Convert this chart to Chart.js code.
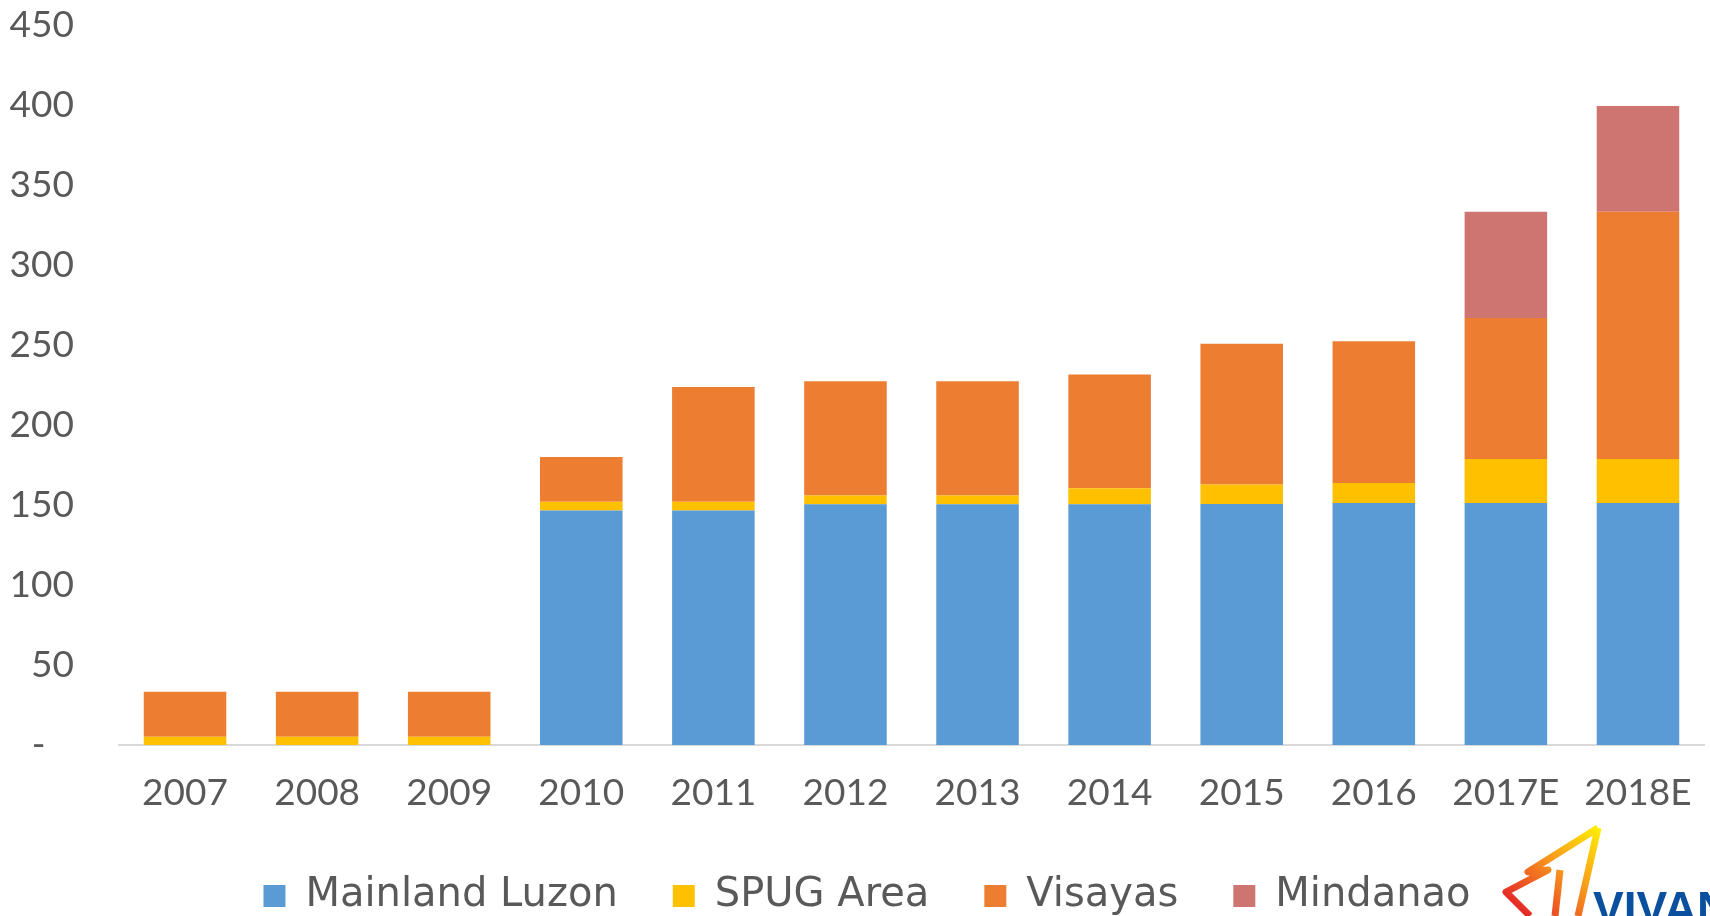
<!DOCTYPE html>
<html>
<head>
<meta charset="utf-8">
<script src="https://cdn.jsdelivr.net/npm/chart.js@4"></script>
<style>
  html, body { margin: 0; padding: 0; background: #fff; }
  #wrap { width: 1710px; height: 916px; position: relative; }
</style>
</head>
<body>
<div id="wrap"><canvas id="chart"></canvas></div>
<script>
const years = ['2007', '2008', '2009', '2010', '2011', '2012', '2013', '2014', '2015', '2016', '2017E', '2018E'];
const luzon = [0, 0, 0, 146.6, 146.6, 150.4, 150.4, 150.4, 150.6, 151.3, 151.2, 151.2];
const spug = [5.2, 5.2, 5.2, 5.4, 5.4, 5.6, 5.6, 10, 12.2, 12.5, 27.5, 27.5];
const visayas = [28.1, 28.1, 28.1, 28, 71.7, 71.3, 71.3, 71.2, 88, 88.5, 88.2, 154.6];
const mindanao = [0, 0, 0, 0, 0, 0, 0, 0, 0, 0, 66.4, 66.1];
const yTicks = [0, 50, 100, 150, 200, 250, 300, 350, 400, 450];

const textColor = '#595959';
const tickFont = 'Lato, "Open Sans", sans-serif';
const legendFont = '"DejaVu Sans", sans-serif';

function dataset(label, data, color) {
    return {
        label: label,
        data: data,
        backgroundColor: color,
        borderWidth: 0,
        barPercentage: 0.625,
        categoryPercentage: 1
    };
}

// put the legend row where the original has it, right before drawing
const legendShift = {
    id: 'legendShift',
    beforeDraw(chart) {
        const lg = chart.legend;
        if (!lg) return;
        lg.top = 821;
        lg.bottom = lg.top + lg.height;
        lg.left = 15;
        lg.right = chart.width - 6 + 15;
    }
};

// rough logo drawn in the bottom right corner
const logoPlugin = {
    id: 'logo',
    afterDraw(chart) {
        const ctx = chart.ctx;
        ctx.save();
        const g = ctx.createLinearGradient(1600, 825, 1520, 916);
        g.addColorStop(0, '#fff200');
        g.addColorStop(0.5, '#f7941d');
        g.addColorStop(1, '#e32228');
        ctx.strokeStyle = g;
        ctx.lineWidth = 7;
        ctx.lineJoin = 'round';
        ctx.beginPath();
        ctx.moveTo(1598, 828);
        ctx.lineTo(1528, 872);
        ctx.lineTo(1548, 870);
        ctx.lineTo(1506, 892);
        ctx.lineTo(1530, 916);
        ctx.stroke();
        ctx.beginPath();
        ctx.moveTo(1598, 828);
        ctx.lineTo(1578, 916);
        ctx.stroke();
        ctx.beginPath();
        ctx.moveTo(1560, 870);
        ctx.lineTo(1555, 916);
        ctx.stroke();
        ctx.fillStyle = '#0b4f9f';
        ctx.font = 'bold 46px "Liberation Sans", Arial, sans-serif';
        ctx.textBaseline = 'alphabetic';
        ctx.fillText('VIVANT', 1593, 924);
        ctx.restore();
    }
};

new Chart(document.getElementById('chart'), {
    type: 'bar',
    data: {
        labels: years,
        datasets: [
            dataset('Mainland Luzon', luzon, '#5b9bd5'),
            dataset('SPUG Area', spug, '#ffc000'),
            dataset('Visayas', visayas, '#ed7d31'),
            dataset('Mindanao', mindanao, '#cf7571')
        ]
    },
    options: {
        responsive: true,
        maintainAspectRatio: false,
        animation: false,
        layout: { padding: { top: 25, right: 6, left: 0, bottom: 0 } },
        plugins: {
            tooltip: { enabled: false },
            legend: {
                position: 'bottom',
                labels: {
                    color: textColor,
                    font: { family: legendFont, size: 40 },
                    boxWidth: 22,
                    boxHeight: 22,
                    padding: 55
                }
            }
        },
        scales: {
            x: {
                stacked: true,
                grid: { display: false, drawTicks: false },
                border: { display: true, color: '#d9d9d9', width: 2 },
                afterFit(scale) {
                    scale.height = 66;
                    scale.paddingLeft = 0;
                    scale.paddingRight = 0;
                },
                ticks: {
                    color: textColor,
                    font: { family: tickFont, size: 37 },
                    padding: 26,
                    maxRotation: 0
                }
            },
            y: {
                stacked: true,
                min: 0,
                max: 450,
                afterBuildTicks(scale) {
                    scale.ticks = yTicks.map(v => ({ value: v }));
                },
                afterFit(scale) {
                    scale.width = 119;
                    scale.paddingTop = 0;
                    scale.paddingBottom = 0;
                },
                grid: { display: false, drawTicks: false },
                border: { display: false },
                ticks: {
                    color: textColor,
                    font: { family: tickFont, size: 37 },
                    padding: 45,
                    callback: v => v === 0 ? '-   ' : String(v)
                }
            }
        }
    },
    plugins: [legendShift, logoPlugin]
});
</script>
</body>
</html>
